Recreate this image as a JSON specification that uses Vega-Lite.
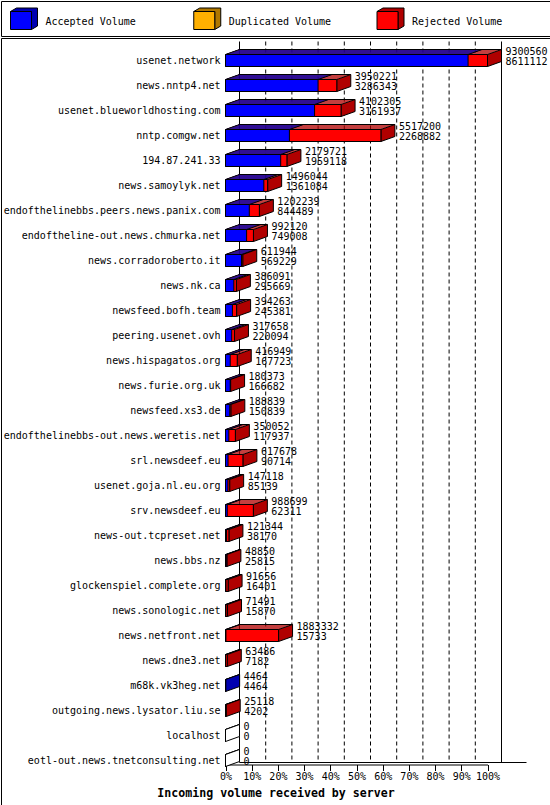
{
  "$schema": "https://vega.github.io/schema/vega-lite/v6.json",
  "padding": 0,
  "spacing": 0,
  "background": "white",
  "config": {
    "view": {"stroke": "black", "strokeWidth": 1},
    "font": "DejaVu Sans Mono"
  },
  "datasets": {
    "servers": [
      {"server": "usenet.network", "total": 9300560, "accepted": 8611112},
      {"server": "news.nntp4.net", "total": 3950221, "accepted": 3286343},
      {"server": "usenet.blueworldhosting.com", "total": 4102305, "accepted": 3161937},
      {"server": "nntp.comgw.net", "total": 5517200, "accepted": 2268882},
      {"server": "194.87.241.33", "total": 2179721, "accepted": 1959118},
      {"server": "news.samoylyk.net", "total": 1496044, "accepted": 1361084},
      {"server": "endofthelinebbs.peers.news.panix.com", "total": 1202239, "accepted": 844489},
      {"server": "endoftheline-out.news.chmurka.net", "total": 992120, "accepted": 749008},
      {"server": "news.corradoroberto.it", "total": 611944, "accepted": 569229},
      {"server": "news.nk.ca", "total": 386091, "accepted": 295669},
      {"server": "newsfeed.bofh.team", "total": 394263, "accepted": 245381},
      {"server": "peering.usenet.ovh", "total": 317658, "accepted": 220094},
      {"server": "news.hispagatos.org", "total": 416949, "accepted": 167723},
      {"server": "news.furie.org.uk", "total": 180373, "accepted": 166682},
      {"server": "newsfeed.xs3.de", "total": 188839, "accepted": 150839},
      {"server": "endofthelinebbs-out.news.weretis.net", "total": 350052, "accepted": 117937},
      {"server": "srl.newsdeef.eu", "total": 617678, "accepted": 90714},
      {"server": "usenet.goja.nl.eu.org", "total": 147118, "accepted": 85139},
      {"server": "srv.newsdeef.eu", "total": 988699, "accepted": 62311},
      {"server": "news-out.tcpreset.net", "total": 121344, "accepted": 38170},
      {"server": "news.bbs.nz", "total": 48850, "accepted": 25815},
      {"server": "glockenspiel.complete.org", "total": 91656, "accepted": 16401},
      {"server": "news.sonologic.net", "total": 71491, "accepted": 15870},
      {"server": "news.netfront.net", "total": 1883332, "accepted": 15733},
      {"server": "news.dne3.net", "total": 63486, "accepted": 7182},
      {"server": "m68k.vk3heg.net", "total": 4464, "accepted": 4464},
      {"server": "outgoing.news.lysator.liu.se", "total": 25118, "accepted": 4202},
      {"server": "localhost", "total": 0, "accepted": 0},
      {"server": "eotl-out.news.tnetconsulting.net", "total": 0, "accepted": 0}
    ],
    "ticks": [
      {"v": 0}, {"v": 930056}, {"v": 1860112}, {"v": 2790168}, {"v": 3720224}, {"v": 4650280},
      {"v": 5580336}, {"v": 6510392}, {"v": 7440448}, {"v": 8370504}, {"v": 9300560}
    ],
    "legend": [
      {"item": "Accepted Volume"},
      {"item": "Duplicated Volume"},
      {"item": "Rejected Volume"}
    ]
  },
  "vconcat": [
    {
      "width": 549,
      "height": 35,
      "data": {"name": "legend"},
      "resolve": {"scale": {"fill": "independent"}},
      "layer": [
        {
          "mark": {"type": "point", "filled": true, "opacity": 1, "size": 4, "stroke": "black", "strokeWidth": 1,
                   "shape": "M0,-7L6,-10.5L27,-10.5L27,7.5L21,11L21,-7Z"},
          "encoding": {
            "x": {"field": "item", "type": "nominal", "sort": null, "axis": null,
                  "scale": {"type": "point", "range": [9.5, 376], "padding": 0}},
            "fill": {"field": "item", "type": "nominal", "legend": null,
                     "scale": {"domain": ["Accepted Volume", "Duplicated Volume", "Rejected Volume"], "range": ["#0000b0", "#b07800", "#b00000"]}}
          }
        },
        {
          "mark": {"type": "point", "filled": true, "opacity": 1, "size": 4, "stroke": "black", "strokeWidth": 1,
                   "shape": "M0,-7L21,-7L21,11L0,11Z"},
          "encoding": {
            "x": {"field": "item", "type": "nominal", "sort": null},
            "fill": {"field": "item", "type": "nominal", "legend": null,
                     "scale": {"domain": ["Accepted Volume", "Duplicated Volume", "Rejected Volume"], "range": ["#0000ff", "#ffb000", "#ff0000"]}}
          }
        },
        {
          "mark": {"type": "text", "align": "left", "baseline": "middle", "dx": 35, "dy": 3, "fontSize": 10, "font": "DejaVu Sans Mono", "color": "black"},
          "encoding": {
            "x": {"field": "item", "type": "nominal", "sort": null},
            "text": {"field": "item"}
          }
        }
      ]
    },
    {
      "width": 549,
      "height": 768,
      "data": {"name": "servers"},
      "layer": [
        {
          "data": {"name": "ticks"},
          "transform": [{"filter": "datum.v > 0 && datum.v < 9300560"}],
          "mark": {"type": "rule", "color": "black", "strokeWidth": 1, "strokeDash": [4, 3], "xOffset": 14, "yOffset": -19, "y2Offset": 702},
          "encoding": {
            "x": {"field": "v", "type": "quantitative",
                  "scale": {"domain": [0, 9300560], "range": [224.5, 486.5], "nice": false, "zero": true},
                  "axis": {
                    "orient": "bottom", "offset": -41.5, "values": [0, 930056, 1860112, 2790168, 3720224, 4650280, 5580336, 6510392, 7440448, 8370504, 9300560],
                    "labelExpr": "round(datum.value / 93005.6) + '%'", "labelOverlap": false, "labelFlush": false,
                    "grid": false, "domain": true, "domainColor": "black", "ticks": true, "tickColor": "black", "tickSize": 6,
                    "labelFont": "DejaVu Sans Mono", "labelFontSize": 10, "labelColor": "black", "labelPadding": 1,
                    "title": "Incoming volume received by server", "titleFont": "DejaVu Sans Mono", "titleFontSize": 11.6,
                    "titleFontWeight": "bold", "titleColor": "black", "titleX": 274.5, "titleY": 29, "titleBaseline": "middle", "titleAlign": "center"
                  }},
            "y": {"datum": "usenet.network", "type": "nominal"},
            "y2": {"datum": "usenet.network"}
          }
        },
        {
          "data": {"name": "ticks"},
          "transform": [{"filter": "datum.v == 0 || datum.v == 9300560"}],
          "mark": {"type": "rule", "color": "black", "strokeWidth": 1, "xOffset": 14, "yOffset": -19, "y2Offset": 702},
          "encoding": {
            "x": {"field": "v", "type": "quantitative"},
            "y": {"datum": "usenet.network", "type": "nominal"},
            "y2": {"datum": "usenet.network"}
          }
        },
        {
          "data": {"name": "ticks"},
          "transform": [{"filter": "datum.v == 0"}],
          "mark": {"type": "rule", "color": "black", "strokeWidth": 1, "xOffset": 14, "x2Offset": 39, "yOffset": 702},
          "encoding": {
            "x": {"field": "v", "type": "quantitative"},
            "x2": {"datum": 9300560},
            "y": {"datum": "usenet.network", "type": "nominal"}
          }
        },
        {
          "mark": {"type": "bar", "color": "#b00000", "height": 1, "yOffset": -6.5, "xOffset": 1.4, "x2Offset": 1.4},
          "encoding": {
            "x": {"field": "total", "type": "quantitative"},
            "y": {"field": "server", "type": "nominal", "sort": null,
                  "scale": {"type": "band", "range": [10, 735], "paddingInner": 0.52, "paddingOuter": 0.26},
                  "axis": {"orient": "left", "offset": -224, "title": null, "domain": false, "ticks": false, "tickSize": 0,
                           "labelPadding": 5, "labelFont": "DejaVu Sans Mono", "labelFontSize": 10, "labelColor": "black", "labelLimit": 400}}
          }
        },
        {
          "mark": {"type": "bar", "color": "#b00000", "height": 1, "yOffset": -7.5, "xOffset": 4.2, "x2Offset": 4.2},
          "encoding": {"x": {"field": "total", "type": "quantitative"}, "y": {"field": "server", "type": "nominal", "sort": null}}
        },
        {
          "mark": {"type": "bar", "color": "#b00000", "height": 1, "yOffset": -8.5, "xOffset": 7, "x2Offset": 7},
          "encoding": {"x": {"field": "total", "type": "quantitative"}, "y": {"field": "server", "type": "nominal", "sort": null}}
        },
        {
          "mark": {"type": "bar", "color": "#b00000", "height": 1, "yOffset": -9.5, "xOffset": 9.8, "x2Offset": 9.8},
          "encoding": {"x": {"field": "total", "type": "quantitative"}, "y": {"field": "server", "type": "nominal", "sort": null}}
        },
        {
          "mark": {"type": "bar", "color": "#b00000", "height": 1, "yOffset": -10.5, "xOffset": 12.6, "x2Offset": 12.6},
          "encoding": {"x": {"field": "total", "type": "quantitative"}, "y": {"field": "server", "type": "nominal", "sort": null}}
        },
        {
          "mark": {"type": "bar", "color": "#0000b0", "height": 1, "yOffset": -6.5, "xOffset": 1.4, "x2Offset": 1.4},
          "encoding": {"x": {"field": "accepted", "type": "quantitative"}, "y": {"field": "server", "type": "nominal", "sort": null}}
        },
        {
          "mark": {"type": "bar", "color": "#0000b0", "height": 1, "yOffset": -7.5, "xOffset": 4.2, "x2Offset": 4.2},
          "encoding": {"x": {"field": "accepted", "type": "quantitative"}, "y": {"field": "server", "type": "nominal", "sort": null}}
        },
        {
          "mark": {"type": "bar", "color": "#0000b0", "height": 1, "yOffset": -8.5, "xOffset": 7, "x2Offset": 7},
          "encoding": {"x": {"field": "accepted", "type": "quantitative"}, "y": {"field": "server", "type": "nominal", "sort": null}}
        },
        {
          "mark": {"type": "bar", "color": "#0000b0", "height": 1, "yOffset": -9.5, "xOffset": 9.8, "x2Offset": 9.8},
          "encoding": {"x": {"field": "accepted", "type": "quantitative"}, "y": {"field": "server", "type": "nominal", "sort": null}}
        },
        {
          "mark": {"type": "bar", "color": "#0000b0", "height": 1, "yOffset": -10.5, "xOffset": 12.6, "x2Offset": 12.6},
          "encoding": {"x": {"field": "accepted", "type": "quantitative"}, "y": {"field": "server", "type": "nominal", "sort": null}}
        },
        {
          "mark": {"type": "rule", "color": "black", "strokeWidth": 1, "xOffset": 14, "x2Offset": 14, "yOffset": -11},
          "encoding": {
            "x": {"field": "total", "type": "quantitative"},
            "x2": {"datum": 0},
            "y": {"field": "server", "type": "nominal", "sort": null}
          }
        },
        {
          "mark": {"type": "point", "filled": false, "opacity": 1, "size": 4, "color": "black", "strokeWidth": 1, "shape": "M0,-6L14,-11"},
          "encoding": {
            "x": {"datum": 0},
            "y": {"field": "server", "type": "nominal", "sort": null}
          }
        },
        {
          "mark": {"type": "point", "filled": false, "opacity": 1, "size": 4, "color": "black", "strokeWidth": 1, "shape": "M0,-6L14,-11"},
          "encoding": {
            "x": {"field": "accepted", "type": "quantitative"},
            "y": {"field": "server", "type": "nominal", "sort": null}
          }
        },
        {
          "mark": {"type": "point", "filled": true, "opacity": 1, "size": 4, "stroke": "black", "strokeWidth": 1, "shape": "M0,-6L14,-11L14,1L0,6Z"},
          "encoding": {
            "x": {"field": "total", "type": "quantitative"},
            "y": {"field": "server", "type": "nominal", "sort": null},
            "fill": {
              "condition": [
                {"test": "datum.total == 0", "value": "white"},
                {"test": "datum.accepted == datum.total", "value": "#0000b0"}
              ],
              "value": "#b00000"
            }
          }
        },
        {
          "mark": {"type": "bar", "fill": "#ff0000", "stroke": "black", "strokeWidth": 1},
          "encoding": {"x": {"field": "total", "type": "quantitative"}, "y": {"field": "server", "type": "nominal", "sort": null}}
        },
        {
          "mark": {"type": "bar", "fill": "#0000ff", "stroke": "black", "strokeWidth": 1},
          "encoding": {"x": {"field": "accepted", "type": "quantitative"}, "y": {"field": "server", "type": "nominal", "sort": null}}
        },
        {
          "mark": {"type": "text", "align": "left", "baseline": "middle", "dx": 18, "dy": -9, "fontSize": 10, "font": "DejaVu Sans Mono", "color": "black"},
          "encoding": {
            "x": {"field": "total", "type": "quantitative"},
            "y": {"field": "server", "type": "nominal", "sort": null},
            "text": {"field": "total", "type": "quantitative", "format": "d"}
          }
        },
        {
          "mark": {"type": "text", "align": "left", "baseline": "middle", "dx": 18, "dy": 1.5, "fontSize": 10, "font": "DejaVu Sans Mono", "color": "black"},
          "encoding": {
            "x": {"field": "total", "type": "quantitative"},
            "y": {"field": "server", "type": "nominal", "sort": null},
            "text": {"field": "accepted", "type": "quantitative", "format": "d"}
          }
        }
      ]
    }
  ]
}
